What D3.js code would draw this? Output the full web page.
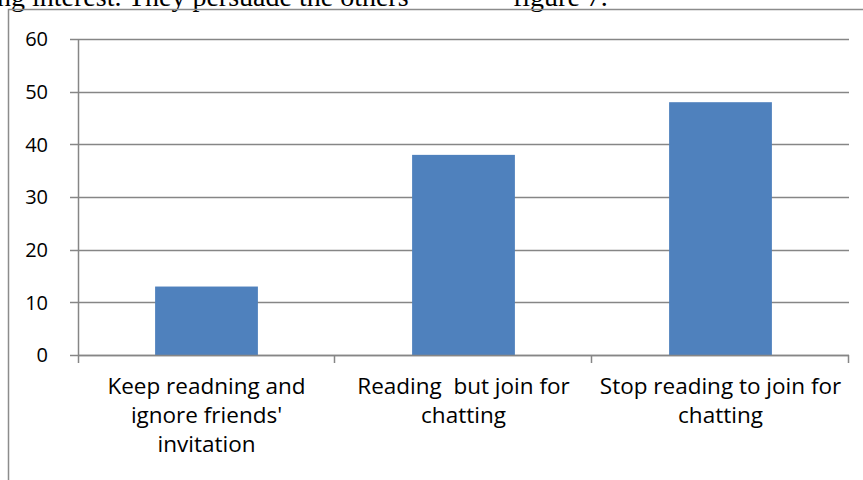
<!DOCTYPE html>
<html>
<head>
<meta charset="utf-8">
<script src="https://cdn.jsdelivr.net/npm/d3@7"></script>
<style>
  body { margin: 0; background: #fff; }
  svg { display: block; }
</style>
</head>
<body>
<div id="chart"></div>
<script>
// Chart data
const categories = [
  ["Keep readning and", "ignore friends'", "invitation"],
  ["Reading  but join for", "chatting"],
  ["Stop reading to join for", "chatting"],
];
const values = [13, 38, 48];
const yTicks = [0, 10, 20, 30, 40, 50, 60];

const width = 863;
const height = 480;
const plot = { left: 78, right: 849, top: 39, bottom: 355 };

const svg = d3
  .select("#chart")
  .append("svg")
  .attr("width", width)
  .attr("height", height);

// Page text above the chart (clipped by the crop)
svg
  .append("text")
  .attr("x", -3)
  .attr("y", 6)
  .style("font-family", "'Liberation Serif', 'Times New Roman', serif")
  .style("font-size", "28px")
  .style("fill", "#000")
  .text("ng interest. They persuade the others");

svg
  .append("text")
  .attr("x", 513)
  .attr("y", 6)
  .style("font-family", "'Liberation Serif', 'Times New Roman', serif")
  .style("font-size", "28px")
  .style("fill", "#000")
  .text("figure 7.");

// Chart frame
svg
  .append("path")
  .attr("d", `M8.5,${height} V9.5 H${width}`)
  .style("fill", "none")
  .style("stroke", "#8c8c8c")
  .style("stroke-width", "1.5px");

const x = d3
  .scaleBand()
  .domain(d3.range(categories.length))
  .range([plot.left, plot.right])
  .paddingInner(0.6)
  .paddingOuter(0.3);

const y = d3.scaleLinear().domain([0, 60]).range([plot.bottom, plot.top]);

const gridColor = "#868686";

// Gridlines with tick marks
svg
  .append("g")
  .selectAll("line")
  .data(yTicks)
  .enter()
  .append("line")
  .attr("x1", plot.left - 8)
  .attr("x2", plot.right)
  .attr("y1", (d) => Math.round(y(d)) + 0.5)
  .attr("y2", (d) => Math.round(y(d)) + 0.5)
  .style("stroke", gridColor)
  .style("stroke-width", "1.5px");

// Y tick labels
svg
  .append("g")
  .selectAll("text")
  .data(yTicks)
  .enter()
  .append("text")
  .attr("x", 48)
  .attr("y", (d) => y(d))
  .attr("dy", "0.36em")
  .attr("text-anchor", "end")
  .style("font-family", "'Open Sans', 'Noto Sans', sans-serif")
  .style("font-size", "20px")
  .style("fill", "#000")
  .text((d) => d);

// Bars
svg
  .append("g")
  .selectAll("rect")
  .data(values)
  .enter()
  .append("rect")
  .attr("x", (d, i) => x(i))
  .attr("y", (d) => y(d))
  .attr("width", x.bandwidth())
  .attr("height", (d) => y(0) - y(d))
  .style("fill", "#4f81bd");

// Y axis line
svg
  .append("line")
  .attr("x1", plot.left + 0.5)
  .attr("x2", plot.left + 0.5)
  .attr("y1", plot.top)
  .attr("y2", plot.bottom + 8)
  .style("stroke", gridColor)
  .style("stroke-width", "1.5px");

// X axis line and category ticks
svg
  .append("line")
  .attr("x1", plot.left)
  .attr("x2", plot.right)
  .attr("y1", Math.round(y(0)) + 0.5)
  .attr("y2", Math.round(y(0)) + 0.5)
  .style("stroke", gridColor)
  .style("stroke-width", "1.5px");

const step = x.step();
svg
  .append("g")
  .selectAll("line")
  .data(d3.range(categories.length))
  .enter()
  .append("line")
  .attr("x1", (i) => plot.left + step * (i + 1) - 0.5)
  .attr("x2", (i) => plot.left + step * (i + 1) - 0.5)
  .attr("y1", plot.bottom)
  .attr("y2", plot.bottom + 8)
  .style("stroke", gridColor)
  .style("stroke-width", "1.5px");

// Category labels
const labels = svg
  .append("g")
  .selectAll("text")
  .data(categories)
  .enter()
  .append("text")
  .attr("text-anchor", "middle")
  .attr("x", (d, i) => x(i) + x.bandwidth() / 2)
  .attr("y", 394)
  .style("font-family", "'Open Sans', 'Noto Sans', sans-serif")
  .style("font-size", "22.5px")
  .style("fill", "#000");

labels
  .selectAll("tspan")
  .data((d) => d)
  .enter()
  .append("tspan")
  .attr("x", function () {
    return d3.select(this.parentNode).attr("x");
  })
  .attr("dy", (d, i) => (i === 0 ? 0 : 28.8))
  .style("white-space", "pre")
  .text((d) => d);
</script>
</body>
</html>
